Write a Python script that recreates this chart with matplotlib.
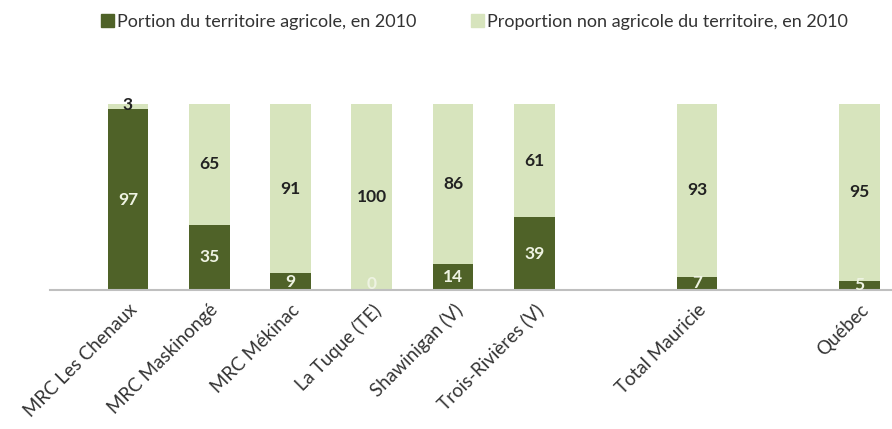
import matplotlib.pyplot as plt
from matplotlib.patches import Patch

plt.rcParams['font.family'] = ['Lato', 'DejaVu Sans']

categories = ['MRC Les Chenaux', 'MRC Maskinongé', 'MRC Mékinac', 'La Tuque (TE)',
              'Shawinigan (V)', 'Trois-Rivières (V)', 'Total Mauricie', 'Québec']
positions = [0, 1, 2, 3, 4, 5, 7, 9]
agricole = [97, 35, 9, 0, 14, 39, 7, 5]
non_agricole = [3, 65, 91, 100, 86, 61, 93, 95]

dark = '#4f6228'
light = '#d7e4bd'

fig = plt.figure(figsize=(8.92, 4.29), dpi=100)
ax = fig.add_axes([0.056, 0.324, 0.944, 0.434])

ax.bar(positions, agricole, width=0.5, color=dark)
ax.bar(positions, non_agricole, width=0.5, bottom=agricole, color=light)

for x, a, n in zip(positions, agricole, non_agricole):
    ax.text(x, a / 2 if a > 3 else 3, str(a), ha='center', va='center',
            color='#eef3e2', fontsize=12.5, fontweight='bold')
    ax.text(x, a + n / 2 if n > 5 else 99.5, str(n), ha='center', va='center',
            color='#222222', fontsize=12.5, fontweight='bold')

ax.set_xlim(-0.96, 9.4)
ax.set_ylim(0, 100)
ax.set_xticks(positions)
ax.set_xticklabels(categories, rotation=45, ha='right', rotation_mode='anchor',
                   fontsize=13.5, color='#333333')
ax.tick_params(axis='x', length=0, pad=8)
ax.set_yticks([])
for s in ['top', 'right', 'left']:
    ax.spines[s].set_visible(False)
ax.spines['bottom'].set_color('#bfbfbf')
ax.spines['bottom'].set_linewidth(1.5)

handles = [Patch(color=dark), Patch(color=light)]
fig.legend(handles, ['Portion du territoire agricole, en 2010',
                     'Proportion non agricole du territoire, en 2010'],
           loc='upper center', bbox_to_anchor=(0.532, 1.005), ncol=2, frameon=False,
           fontsize=13, handlelength=0.7, handleheight=0.7, handletextpad=0.2,
           columnspacing=3.0, labelcolor='#333333')

fig.savefig('out.png', dpi=100)
